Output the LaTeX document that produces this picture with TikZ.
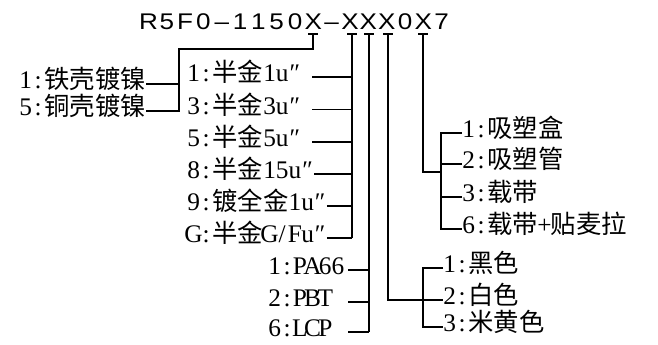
\documentclass[tikz,border=0pt]{standalone}
\usepackage{fontspec}
\setmainfont{Liberation Serif}
\newfontfamily\cjk{Noto Sans CJK SC}
\newfontfamily\titlefont[FakeStretch=1.15]{Liberation Sans}
\makeatletter
\def\hw@loop#1{\ifx#1\relax\else\makebox[0.5em][c]{#1}\expandafter\hw@loop\fi}
\newcommand\hws[1]{\hw@loop#1\relax}
\def\tl@loop#1{\ifx#1\relax\else\makebox[13.75pt][c]{#1}\expandafter\tl@loop\fi}
\newcommand\titlechars[1]{\tl@loop#1\relax}
\makeatother
\begin{document}
\begin{tikzpicture}[x=0.75pt,y=-0.75pt,
  lbl/.style={anchor=west, inner sep=0pt, text height=0.8em, text depth=0.12em, font=\fontsize{19}{22}\selectfont},
  conn/.style={line width=1.4pt, line join=miter}]
\useasboundingbox (0,0) rectangle (658,344);
% title
\node[anchor=base west, inner sep=0pt, font=\titlefont\fontsize{17}{20}\selectfont] (title) at (139,29.5) {\titlechars{R5F0–1150X–XXX0X7}};
% T tops
\coordinate (t1) at (313,34);
\coordinate (t2) at (352,34);
\coordinate (t3) at (369,34);
\coordinate (t4) at (388,34);
\coordinate (t5) at (423,34);
\foreach \t in {t1,t2,t3,t4,t5} {\draw[conn] (\t) ++(-5,0) -- ++(10,0);}
% left labels (shell)
\node[lbl] (c1) at (19,84) {\hws{1:}{\cjk 铁壳镀镍}};
\node[lbl] (c2) at (19,111) {\hws{5:}{\cjk 铜壳镀镍}};
\coordinate (k1) at (313,49);
\coordinate (k2) at (179,49);
\draw[conn] (t1) -- (k1) -- (k2) |- (c2.east);
\draw[conn] (c1.east) -- (c1.east -| k2);
% gold plating
\node[lbl] (g1) at (187,77) {\hws{1:}{\cjk 半金}\hws{1u″}};
\node[lbl] (g2) at (187,109.5) {\hws{3:}{\cjk 半金}\hws{3u″}};
\node[lbl] (g3) at (187,142) {\hws{5:}{\cjk 半金}\hws{5u″}};
\node[lbl] (g4) at (187,174) {\hws{8:}{\cjk 半金}\hws{15u″}};
\node[lbl] (g5) at (187,206) {\hws{9:}{\cjk 镀全金}\hws{1u″}};
\node[lbl] (g6) at (187,238) {\hws{G:}{\cjk 半金}\hws{G/Fu″}};
\coordinate (gs) at (312,0);
\draw[conn] (t2) -- (t2 |- g6);
\foreach \g in {g1,g2,g3} {\draw[conn] (\g -| gs) -- (\g -| t2);}
\foreach \g in {g4,g5,g6} {\draw[conn] (\g.east) -- (\g -| t2);}
% material
\node[lbl] (m1) at (268,270) {\hws{1:PA66}};
\node[lbl] (m2) at (268,302) {\hws{2:PBT}};
\node[lbl] (m3) at (268,332) {\hws{6:LCP}};
\coordinate (ms) at (348,0);
\draw[conn] (t3) -- (t3 |- m3);
\foreach \m in {m1,m2,m3} {\draw[conn] (\m -| ms) -- (\m -| t3);}
% colours
\node[lbl] (col1) at (443,268) {\hws{1:}{\cjk 黑色}};
\node[lbl] (col2) at (443,300) {\hws{2:}{\cjk 白色}};
\node[lbl] (col3) at (443,327) {\hws{3:}{\cjk 米黄色}};
\coordinate (cb) at (423,0);
\draw[conn] (t4) |- (col2.west);
\draw[conn] (col1.west) -- (col1.west -| cb) -- (col3.west -| cb) -- (col3.west);
% packaging
\node[lbl] (p1) at (462,133) {\hws{1:}{\cjk 吸塑盒}};
\node[lbl] (p2) at (462,164) {\hws{2:}{\cjk 吸塑管}};
\node[lbl] (p3) at (462,197) {\hws{3:}{\cjk 载带}};
\node[lbl] (p4) at (462,229) {\hws{6:}{\cjk 载带}\hws{+}{\cjk 贴麦拉}};
\coordinate (pb) at (441,0);
\coordinate (pj) at (441,172);
\draw[conn] (t5) |- (pj);
\draw[conn] (p1.west) -- (p1.west -| pb) -- (p4.west -| pb) -- (p4.west);
\draw[conn] (p2.west) -- (p2.west -| pb);
\draw[conn] (p3.west) -- (p3.west -| pb);
\end{tikzpicture}
\end{document}
